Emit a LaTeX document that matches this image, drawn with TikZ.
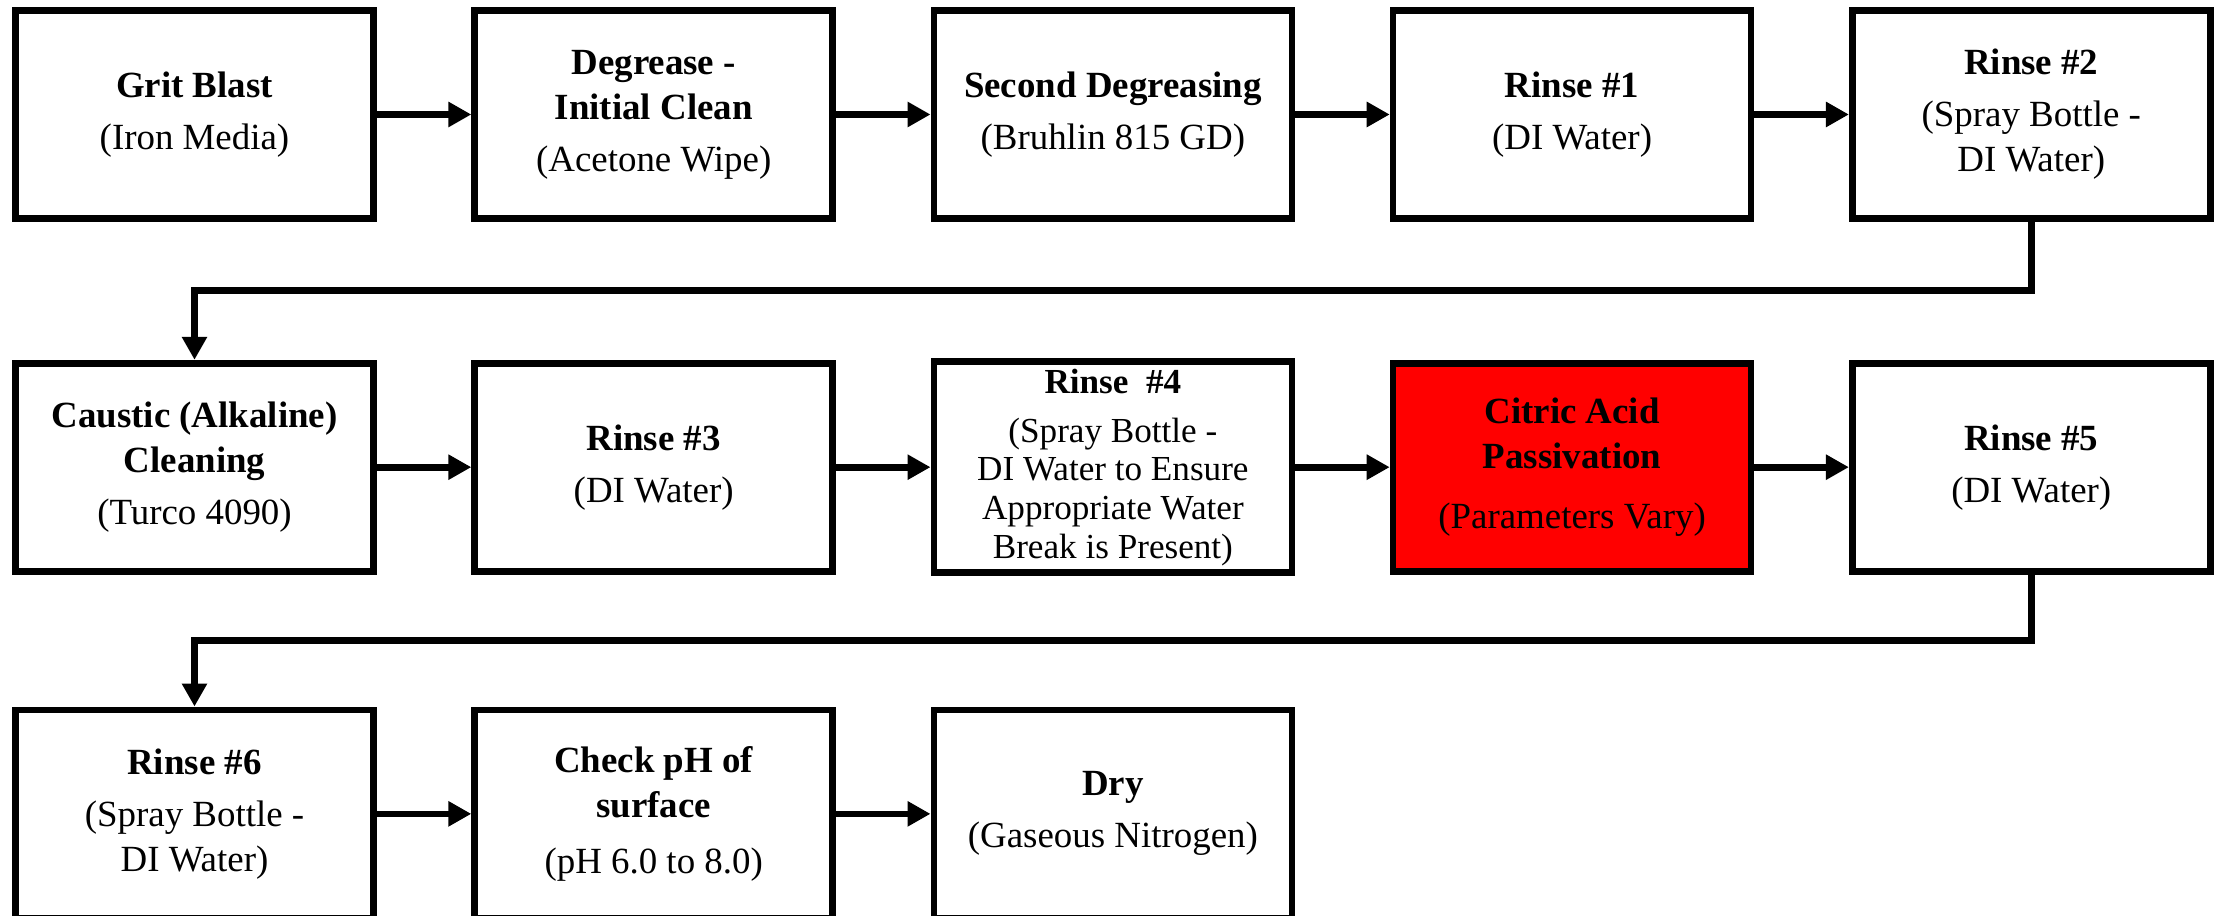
\documentclass[tikz,border=0pt]{standalone}
\usepackage{fontspec}
\setmainfont{Liberation Serif}
\usetikzlibrary{arrows.meta,positioning,calc}

\begin{document}
\begin{tikzpicture}[
  proc/.style={draw, line width=1.9pt, minimum width=3.58cm, minimum height=2.08cm,
    align=center, inner sep=2pt, font=\fontsize{10.5}{12.8}\selectfont},
  flow/.style={line width=1.9pt, -{Triangle[length=2.3mm,width=2.4mm]}},
  node distance=1.38cm and 0.945cm]
\useasboundingbox (0,0) rectangle (22.18,-9.16);
% first row
\node[proc] (grit) at (1.945,-1.145) {\textbf{Grit Blast}\\[2pt](Iron Media)};
\node[proc, right=of grit] (degr) {\textbf{Degrease -}\\\textbf{Initial Clean}\\[2pt](Acetone Wipe)};
\node[proc, right=of degr] (second) {\textbf{Second Degreasing}\\[2pt](Bruhlin 815 GD)};
\node[proc, right=of second] (rinseA) {\textbf{Rinse \#1}\\[2pt](DI Water)};
\node[proc, right=of rinseA] (rinseB) {\textbf{Rinse \#2}\\[2pt](Spray Bottle -\\DI Water)};
% second row
\node[proc, below=of grit] (caustic) {\textbf{Caustic (Alkaline)}\\\textbf{Cleaning}\\[2pt](Turco 4090)};
\node[proc, right=of caustic] (rinseC) {\textbf{Rinse \#3}\\[2pt](DI Water)};
\node[proc, right=of rinseC, font=\fontsize{10}{11}\selectfont] (rinseD) {\textbf{Rinse\ \ \#4}\\[3pt](Spray Bottle -\\DI Water to Ensure\\Appropriate Water\\Break is Present)};
\node[proc, right=of rinseD, fill=red] (citric) {\textbf{Citric Acid}\\\textbf{Passivation}\\[4pt](Parameters Vary)};
\node[proc, right=of citric] (rinseE) {\textbf{Rinse \#5}\\[2pt](DI Water)};
% third row
\node[proc, below=1.32cm of caustic] (rinseF) {\textbf{Rinse \#6}\\[2pt](Spray Bottle -\\DI Water)};
\node[proc, right=of rinseF] (check) {\textbf{Check pH of}\\\textbf{surface}\\[3pt](pH 6.0 to 8.0)};
\node[proc, right=of check] (dry) {\textbf{Dry}\\[2pt](Gaseous Nitrogen)};
% connectors
\draw[flow] (grit) -- (degr);
\draw[flow] (degr) -- (second);
\draw[flow] (second) -- (rinseA);
\draw[flow] (rinseA) -- (rinseB);
\draw[flow] (rinseB.south) |- ($(rinseB.south)!.5!(caustic.north)$) -| (caustic.north);
\draw[flow] (caustic) -- (rinseC);
\draw[flow] (rinseC) -- (rinseD);
\draw[flow] (rinseD) -- (citric);
\draw[flow] (citric) -- (rinseE);
\draw[flow] (rinseE.south) |- ($(rinseE.south)!.5!(rinseF.north)$) -| (rinseF.north);
\draw[flow] (rinseF) -- (check);
\draw[flow] (check) -- (dry);
\end{tikzpicture}
\end{document}
